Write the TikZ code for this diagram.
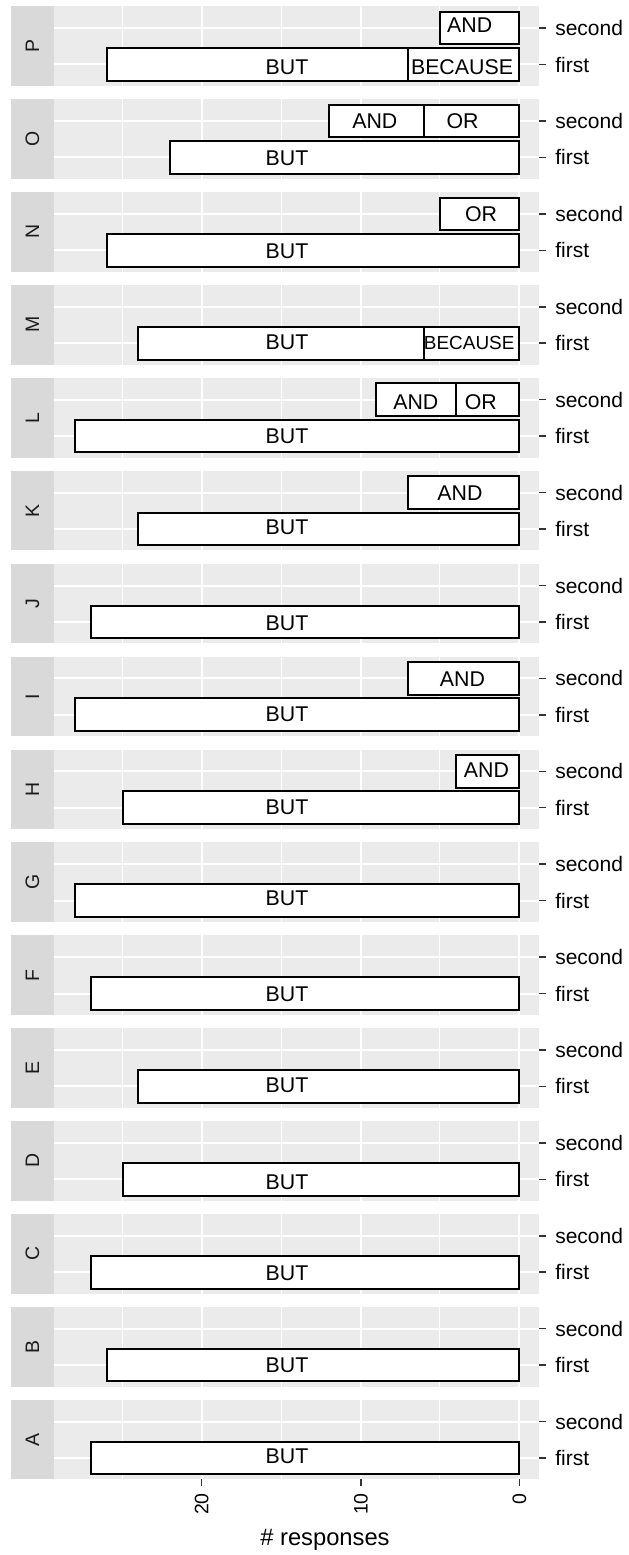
\documentclass[tikz,border=0pt]{standalone}
\usepackage{fontspec}
\setmainfont{Liberation Sans}
\usepackage{tikz}
\definecolor{panelgray}{HTML}{EBEBEB}
\definecolor{stripgray}{HTML}{D9D9D9}
\definecolor{tickgray}{HTML}{333333}
\definecolor{stripink}{HTML}{1A1A1A}

\begin{document}
\begin{tikzpicture}[x=0.75pt, y=-0.75pt]
% Define chart styles
\tikzstyle{panelbox} = [fill=panelgray]
\tikzstyle{stripbox} = [fill=stripgray]
\tikzstyle{gridmajor} = [draw=white, line width=1.5pt]
\tikzstyle{gridminor} = [draw=white, line width=0.75pt]
\tikzstyle{barbox} = [draw=black, fill=white, line width=1.5pt]
\tikzstyle{barlabel} = [inner sep=0pt, font=\fontsize{16}{19}\selectfont]
\tikzstyle{ylabel} = [inner sep=0pt, anchor=west, font=\fontsize{15.75}{19}\selectfont]
\tikzstyle{xlabel} = [inner sep=0pt, anchor=east, rotate=90, text=black, font=\fontsize{14.6}{17}\selectfont]
\tikzstyle{axistick} = [draw=tickgray, line width=1.1pt]
\tikzstyle{striplabel} = [inner sep=0pt, rotate=90, text=stripink, font=\fontsize{14.6}{17}\selectfont]
% Page and bounding box
\fill[white] (0,0) rectangle (628,1555);
\useasboundingbox (0,0) rectangle (628,1555);
% Define panels (one per item)
\foreach \l [count=\i from 0] in {P,O,N,M,L,K,J,I,H,G,F,E,D,C,B,A} {
  \pgfmathsetmacro\top{6.3+92.9*\i}
  \fill[panelbox] (54,\top) rectangle (538.8,\top+79.6);
  \fill[stripbox] (10.8,\top) rectangle (54,\top+79.6);
  \foreach \v in {122.3,281.7,439.3}
    \draw[gridminor] (\v,\top) -- (\v,\top+79.6);
  \foreach \v in {201.7,361,519.3}
    \draw[gridmajor] (\v,\top) -- (\v,\top+79.6);
  \draw[gridmajor] (54,\top+21.8) -- (538.8,\top+21.8);
  \draw[gridmajor] (54,\top+58.2) -- (538.8,\top+58.2);
  \draw[axistick] (538.8,\top+21.8) -- (546,\top+21.8);
  \draw[axistick] (538.8,\top+58.2) -- (546,\top+58.2);
  \node[ylabel] (second-\l) at (555,\top+21.8) {second};
  \node[ylabel] (first-\l) at (555,\top+58.2) {first};
  \node[striplabel] (strip-\l) at (32.4,\top+39.8) {\l};
}
% Bars of panel P
\draw[barbox] (106.68,48.15) rectangle (408.21,80.85);
\draw[barbox] (408.21,48.15) rectangle (519.3,80.85);
\draw[barbox] (439.95,11.75) rectangle (519.3,44.45);
\node[barlabel] (P-but) at (287,67.2) {BUT};
\node[barlabel] (P-because) at (462,66.7) {BECAUSE};
\node[barlabel] (P-and) at (469.7,25.1) {AND};
% Bars of panel O
\draw[barbox] (170.16,141.05) rectangle (519.3,173.75);
\draw[barbox] (328.86,104.65) rectangle (424.08,137.35);
\draw[barbox] (424.08,104.65) rectangle (519.3,137.35);
\node[barlabel] (O-but) at (287,158.1) {BUT};
\node[barlabel] (O-and) at (374.8,121.0) {AND};
\node[barlabel] (O-or) at (462.5,121.0) {OR};
% Bars of panel N
\draw[barbox] (106.68,233.95) rectangle (519.3,266.65);
\draw[barbox] (439.95,197.55) rectangle (519.3,230.25);
\node[barlabel] (N-but) at (287,251.1) {BUT};
\node[barlabel] (N-or) at (481,214.6) {OR};
% Bars of panel M
\draw[barbox] (138.42,326.85) rectangle (424.08,359.55);
\draw[barbox] (424.08,326.85) rectangle (519.3,359.55);
\node[barlabel] (M-but) at (287,342.5) {BUT};
\node[barlabel, font=\fontsize{14.2}{17}\selectfont] (M-because) at (469.2,343.0) {BECAUSE};
% Bars of panel L
\draw[barbox] (74.94,419.75) rectangle (519.3,452.45);
\draw[barbox] (376.47,383.35) rectangle (455.82,416.05);
\draw[barbox] (455.82,383.35) rectangle (519.3,416.05);
\node[barlabel] (L-but) at (287,436.1) {BUT};
\node[barlabel] (L-and) at (415.8,402.0) {AND};
\node[barlabel] (L-or) at (480.8,402.0) {OR};
% Bars of panel K
\draw[barbox] (138.42,512.65) rectangle (519.3,545.35);
\draw[barbox] (408.21,476.25) rectangle (519.3,508.95);
\node[barlabel] (K-but) at (287,527.3) {BUT};
\node[barlabel] (K-and) at (460,492.9) {AND};
% Bars of panel J
\draw[barbox] (90.81,605.55) rectangle (519.3,638.25);
\node[barlabel] (J-but) at (287,623.5) {BUT};
% Bars of panel I
\draw[barbox] (74.94,698.45) rectangle (519.3,731.15);
\draw[barbox] (408.21,662.05) rectangle (519.3,694.75);
\node[barlabel] (I-but) at (287,714.5) {BUT};
\node[barlabel] (I-and) at (462.5,679.1) {AND};
% Bars of panel H
\draw[barbox] (122.55,791.35) rectangle (519.3,824.05);
\draw[barbox] (455.82,754.95) rectangle (519.3,787.65);
\node[barlabel] (H-but) at (287,807.1) {BUT};
\node[barlabel] (H-and) at (486.5,770.6) {AND};
% Bars of panels G to A
\draw[barbox] (74.94,884.25) rectangle (519.3,916.95);
\node[barlabel] (G-but) at (287,898.3) {BUT};
\draw[barbox] (90.81,977.15) rectangle (519.3,1009.85);
\node[barlabel] (F-but) at (287,994.0) {BUT};
\draw[barbox] (138.42,1070.05) rectangle (519.3,1102.75);
\node[barlabel] (E-but) at (287,1085.1) {BUT};
\draw[barbox] (122.55,1162.95) rectangle (519.3,1195.65);
\node[barlabel] (D-but) at (287,1182.3) {BUT};
\draw[barbox] (90.81,1255.85) rectangle (519.3,1288.55);
\node[barlabel] (C-but) at (287,1273.0) {BUT};
\draw[barbox] (106.68,1348.75) rectangle (519.3,1381.45);
\node[barlabel] (B-but) at (287,1365.4) {BUT};
\draw[barbox] (90.81,1441.65) rectangle (519.3,1474.35);
\node[barlabel] (A-but) at (287,1456.7) {BUT};
% Bottom axis
\foreach \v/\t in {201.7/20,361/10,519.3/0} {
  \draw[axistick] (\v,1479.4) -- (\v,1486);
  \node[xlabel] (tick-\t) at (\v,1493) {\t};
}
\node[inner sep=0pt, font=\fontsize{17.8}{21}\selectfont] (title) at (325,1540) {\# responses};
\end{tikzpicture}
\end{document}
